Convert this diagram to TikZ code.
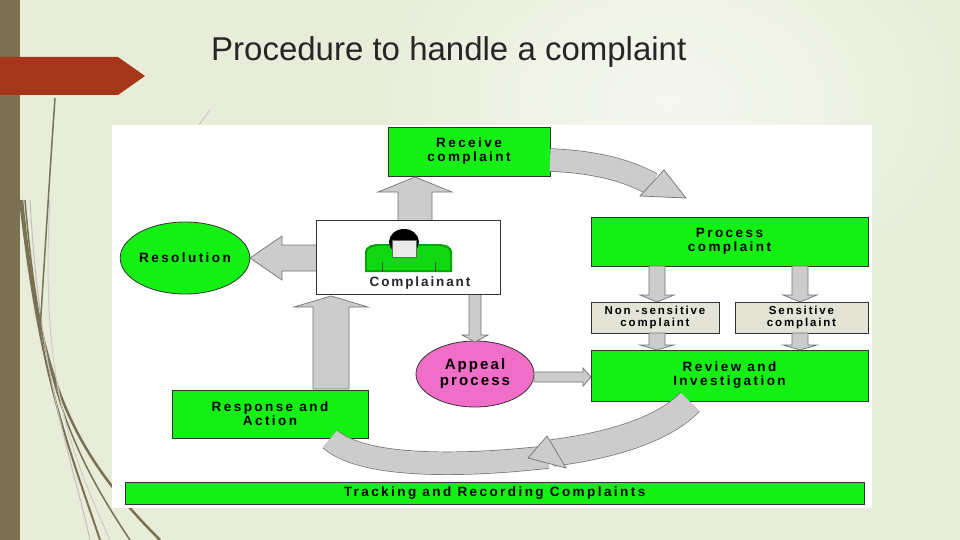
\documentclass[tikz,border=0pt]{standalone}
\usepackage{fontspec}
\usetikzlibrary{shapes.geometric}
\setmainfont{Liberation Sans}
\begin{document}
\begin{tikzpicture}[x=1pt,y=-1pt,
  gbox/.style={draw=black!80,line width=0.8pt,fill=lgreen,font=\fontsize{13.5}{14}\selectfont\bfseries\addfontfeature{LetterSpace=18},align=center,inner sep=0pt},
  tbox/.style={draw=black!80,line width=0.8pt,fill=beige,font=\fontsize{11.5}{11.5}\selectfont\bfseries\addfontfeature{LetterSpace=16},align=center,inner sep=0pt},
  blk/.style={draw=black!55,line width=0.7pt,fill=black!20},
  cband/.style={draw=black!55,line width=0.7pt,double=black!20}]
\definecolor{lgreen}{RGB}{20,240,20}
\definecolor{beige}{RGB}{228,228,214}
\definecolor{bg}{RGB}{232,237,218}
\definecolor{brn}{RGB}{122,112,82}
\definecolor{rust}{RGB}{165,54,26}
\definecolor{pink}{RGB}{240,110,200}
\useasboundingbox (0,0) rectangle (960,540);
\fill[bg] (0,0) rectangle (960,540);
\shade[inner color=white!60!bg,outer color=bg] (380,-100) rectangle (960,300);
\fill[brn] (0,0) rectangle (20,540);
% decorative lines
\foreach \a/\b/\w/\c in {20/100/2/brn,25/130/1.5/brn,22/160/2.5/brn,30/90/1/black!25,50/110/1/black!20}{
  \draw[\c,line width=\w] (\a,200) .. controls (40,380) and (70,450) .. (\b,540);}
\draw[brn,line width=1.5] (55,98) .. controls (48,200) and (42,300) .. (40,330);
\draw[black!25,line width=0.8] (195,130) -- (210,110);
\fill[rust] (0,57) -- (118,57) -- (145,76) -- (118,95) -- (0,95) -- cycle;
\node[font=\fontsize{33}{34}\selectfont,text=black!85,anchor=west,inner sep=0pt] (title) at (211,52) {Procedure to handle a complaint};
% panel
\fill[white] (112,125) rectangle (872,508);
% nodes
\node[gbox,minimum width=162,minimum height=49] (recv) at (469,151.5) {Receive\\complaint};
\node[gbox,minimum width=277,minimum height=49] (proc) at (729.5,241.5) {Process\\complaint};
\node[tbox,minimum width=128,minimum height=31] (non) at (655,317.5) {Non -sensitive\\complaint};
\node[tbox,minimum width=133,minimum height=31] (sens) at (801.5,317.5) {Sensitive\\complaint};
\node[gbox,minimum width=277,minimum height=51] (rev) at (729.5,375.5) {Review and\\Investigation};
\node[gbox,ellipse,minimum width=124,minimum height=72,inner sep=0pt] (res) at (185,258) {Resolution};
\node[gbox,ellipse,fill=pink,minimum width=118,minimum height=66,font=\fontsize{15}{16}\selectfont\bfseries\addfontfeature{LetterSpace=14}] (app) at (475,374) {Appeal\\process};
\node[gbox,minimum width=196,minimum height=48] (resp) at (270,414) {Response and\\Action};
\node[gbox,minimum width=739,minimum height=22] (track) at (494.5,493) {Tracking and Recording Complaints};
% block arrows
\newcommand\blkv[6]{\draw[blk] ({#1-#5},#2) -- ({#1-#5},#3) -- ({#1-#6},#3) -- (#1,#4) -- ({#1+#6},#3) -- ({#1+#5},#3) -- ({#1+#5},#2) -- cycle;}
\newcommand\blkh[6]{\draw[blk] (#2,{#1-#5}) -- (#3,{#1-#5}) -- (#3,{#1-#6}) -- (#4,#1) -- (#3,{#1+#6}) -- (#3,{#1+#5}) -- (#2,{#1+#5}) -- cycle;}
\blkv{415}{221}{192}{177}{17}{37}
\blkh{258}{317}{282}{250}{13}{22}
\blkv{331}{389}{307}{296}{18}{37}
\blkv{475}{294}{335}{342}{6}{13}
\blkh{377}{534}{583}{591}{5}{9}
\blkv{657}{266}{295}{302}{8}{17}
\blkv{800}{266}{295}{302}{8}{17}
\blkv{657}{333}{345}{350}{8}{17}
\blkv{800}{333}{345}{350}{8}{17}
% curved arrows
\draw[cband,double distance=22pt] (550,160) .. controls (600,162) and (630,172) .. (652,184);
\draw[blk] (640,196) -- (664,170) -- (686,198) -- cycle;
\draw[cband,double distance=22pt] (330,439) .. controls (360,466) and (450,468) .. (548,457);
\draw[cband,double distance=26pt] (690,402) .. controls (665,428) and (615,445) .. (552,453);
\draw[blk] (547,436) -- (566,468) -- (528,458) -- cycle;
% complainant box
\node[draw=black!80,line width=0.8pt,fill=white,minimum width=184,minimum height=74,inner sep=0pt] (comp) at (408,257) {};
\node[font=\fontsize{13.5}{14}\selectfont\bfseries\addfontfeature{LetterSpace=14},text=black!85] (ctext) at (420,283) {Complainant};
\fill[green!65!black] (365,272) -- (365,252) .. controls (365,246) and (372,244) .. (380,244) -- (437,244) .. controls (445,244) and (452,246) .. (452,252) -- (452,272) -- cycle;
\fill[lgreen!90!black] (367,270) -- (367,253) .. controls (367,248) and (373,246) .. (381,246) -- (436,246) .. controls (444,246) and (450,248) .. (450,253) -- (450,270) -- cycle;
\draw[black!70] (382,262) -- (382,272) (435,262) -- (435,272);
\fill[black] (404,242) ellipse (15 and 13);
\fill[black!8] (392,240) rectangle (416,257);
\draw[black!60,line width=0.5] (392,240) rectangle (416,257);
\end{tikzpicture}
\end{document}
